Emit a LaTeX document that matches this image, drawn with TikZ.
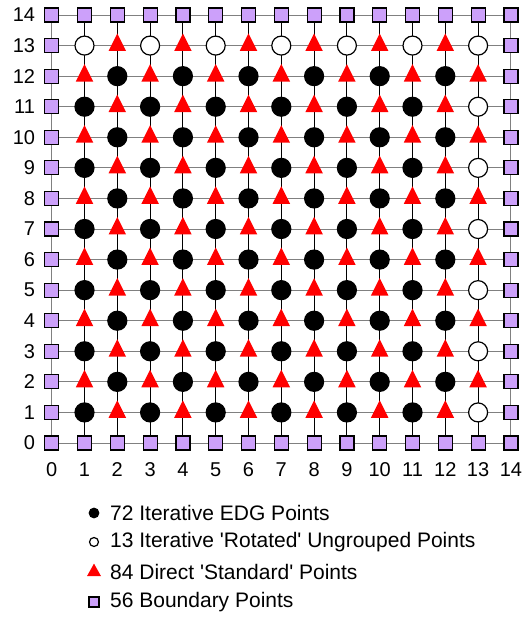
\documentclass[tikz,border=0pt]{standalone}
\usepackage{fontspec}
\setmainfont{Liberation Sans}
\usetikzlibrary{shapes.geometric}
\definecolor{bndpurple}{RGB}{204,160,250}
\tikzset{
  edgpt/.style  = {circle, draw=black, fill=black, line width=1.2pt,
                   minimum size=19pt, inner sep=0pt},
  rotpt/.style  = {circle, draw=black, fill=white, line width=1.2pt,
                   minimum size=19pt, inner sep=0pt},
  stdpt/.style  = {isosceles triangle, shape border rotate=90,
                   isosceles triangle stretches, fill=red, inner sep=0pt,
                   minimum width=17.5pt, minimum height=17.5pt},
  bndpt/.style  = {rectangle, draw=black, fill=bndpurple, line width=1.2pt,
                   minimum size=14pt, inner sep=0pt},
  hline/.style  = {draw=gray, line width=0.9pt},
  vline/.style  = {draw=black, line width=0.9pt},
  ticklbl/.style = {font=\fontsize{20}{24}\selectfont, inner sep=0pt},
  keytext/.style = {font=\fontsize{21}{25}\selectfont, anchor=west, inner sep=0pt},
}

\begin{document}
\begin{tikzpicture}[x=32.8pt, y=30.57pt]
\useasboundingbox (-51.7pt,-175pt) rectangle (477.3pt,443pt);

%% grid coordinates
\foreach \x in {0,...,14}
  \foreach \y in {0,...,14}
    \coordinate (g-\x-\y) at (\x,\y);

%% grid lines
\foreach \y in {0,...,14}
  \draw[hline] (g-0-\y) -- (g-14-\y);
\foreach \x in {1,...,13}
  \draw[vline] (g-\x-0) -- (g-\x-14);
\draw[hline] (g-0-0) -- (g-0-14);
\draw[hline] (g-14-0) -- (g-14-14);

%% boundary points
\foreach \i in {0,...,14} {
  \node[bndpt] (m-\i-0)  at (g-\i-0)  {};
  \node[bndpt] (m-\i-14) at (g-\i-14) {};
}
\foreach \i in {1,...,13} {
  \node[bndpt] (m-0-\i)  at (g-0-\i)  {};
  \node[bndpt] (m-14-\i) at (g-14-\i) {};
}

%% interior points
\foreach \x in {1,...,13}
  \foreach \y in {1,...,13} {
    \pgfmathtruncatemacro\s{\x+\y}
    \ifodd\s
      \node[stdpt] (m-\x-\y) at (g-\x-\y) {};
    \else
      \ifnum\y=13
        \node[rotpt] (m-\x-\y) at (g-\x-\y) {};
      \else\ifnum\x=13
        \node[rotpt] (m-\x-\y) at (g-\x-\y) {};
      \else
        \node[edgpt] (m-\x-\y) at (g-\x-\y) {};
      \fi\fi
    \fi
  }

%% axis labels
\foreach \i in {0,...,14} {
  \node[ticklbl] (xl-\i) at (\i,0) [yshift=-27pt] {\i};
  \node[ticklbl, anchor=east] (yl-\i) at (0,\i) [xshift=-16.5pt] {\i};
}

%% legend
\node[edgpt, minimum size=9.5pt] (k-edg) at (42.3pt,-70pt)  {};
\node[rotpt, minimum size=9pt]   (k-rot) at (42.3pt,-99pt)  {};
\node[stdpt, minimum width=14pt, minimum height=12.5pt] (k-std) at (42.3pt,-129pt) {};
\node[bndpt, minimum size=10pt]  (k-bnd) at (42.3pt,-159pt) {};
\node[keytext] (t-edg) at (58.3pt,-70pt)  {72 Iterative EDG Points};
\node[keytext] (t-rot) at (58.3pt,-99pt)  {13 Iterative \textquotesingle Rotated\textquotesingle\ Ungrouped Points};
\node[keytext] (t-std) at (58.3pt,-129pt) {84 Direct \textquotesingle Standard\textquotesingle\ Points};
\node[keytext] (t-bnd) at (58.3pt,-159pt) {56 Boundary Points};

\end{tikzpicture}
\end{document}
